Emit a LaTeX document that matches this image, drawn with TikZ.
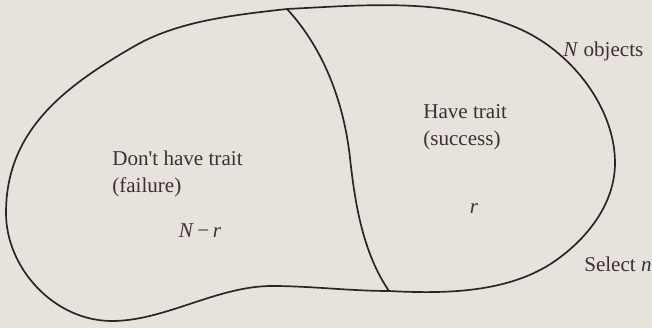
\documentclass[tikz,border=0pt]{standalone}
\usepackage{fontspec}
\setmainfont{Liberation Serif}
\usepackage{xcolor}
\usepackage{tikz}
\definecolor{ink}{HTML}{2E2329}
\definecolor{txt}{HTML}{3A3036}
\definecolor{bg}{HTML}{E8E2DC}

\begin{document}
\begin{tikzpicture}[
  x=0.025cm, y=0.025cm,
  every node/.style={font=\fontsize{15}{19}\selectfont, text=txt, inner sep=0pt},
  outline/.style={draw=ink, line width=1.2pt, line join=round},
  lbl/.style={align=left, anchor=west}
]
  \fill[bg] (0,0) rectangle (652,328);
  \useasboundingbox (0,0) rectangle (652,328);

  \coordinate (top) at (287,319);
  \coordinate (bot) at (389,37);
  \coordinate (mid) at (350,170);

  % set of N objects
  \draw[outline] (top)
    .. controls (367,323) and (449,331) .. (522,298)
    .. controls (572,275) and (615,220) .. (615,165)
    .. controls (615,125) and (588,90) .. (555,67)
    .. controls (509,35) and (445,34) .. (bot)
    .. controls (350,37) and (311,42) .. (272,42)
    .. controls (217,42) and (165,7) .. (112,7)
    .. controls (54,7) and (6,60) .. (6,115)
    .. controls (6,196) and (62,240) .. (133,281)
    .. controls (177,307) and (234,313) .. (top) -- cycle;

  % split into failure / success
  \draw[outline] (top)
    .. controls (324,279) and (344,225) .. (mid)
    .. controls (355,124) and (363,75) .. (bot);

  \node[lbl] (fail) at (112,154) {Don\textquotesingle t have trait\\(failure)};
  \node[lbl] (succ) at (423,201) {Have trait\\(success)};
  \node (nr) at (200,97) {\textit{N}\,−\,\textit{r}};
  \node (r) at (474,119) {\textit{r}};
  \node[anchor=west] (objs) at (563,277) {\textit{N} objects};
  \node[anchor=west] (sel) at (584,64) {Select \textit{n}};
\end{tikzpicture}
\end{document}
